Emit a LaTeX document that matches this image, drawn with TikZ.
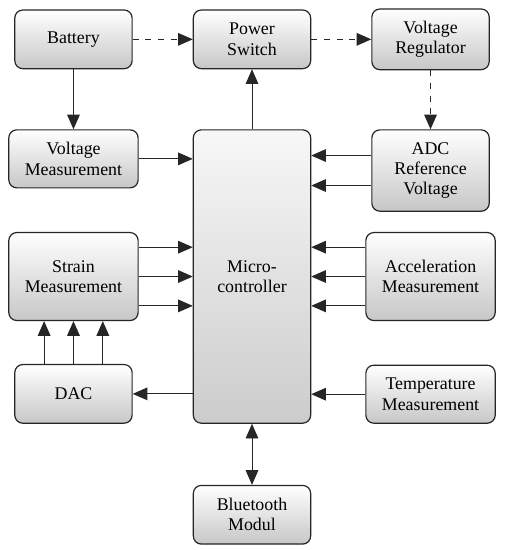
\documentclass[tikz,border=0pt]{standalone}
\usepackage{fontspec}
\setmainfont{Liberation Serif}
\usepackage{xcolor}
\usetikzlibrary{arrows.meta, positioning}

\begin{document}
\begin{tikzpicture}[
    blk/.style={draw=black!85, line width=0.9pt, rounded corners=6pt,
        top color=white, bottom color=black!22, minimum width=88pt,
        minimum height=44pt, align=center, inner sep=2pt,
        font=\rmfamily\fontsize{13.4}{15.2}\selectfont},
    wblk/.style={blk, minimum width=97pt, minimum height=43.5pt},
    sig/.style={draw=black!85, line width=0.7pt, -{Triangle[length=11pt,width=9.5pt]}},
    pwr/.style={sig, dashed, dash pattern=on 4.5pt off 5pt}
]
    \useasboundingbox (0pt,0pt) rectangle (381.75pt,-412.5pt);

    % Controller in the middle
    \node[blk, minimum height=220pt, top color=black!3, bottom color=black!20]
        (mc) at (189pt,-207.4pt) {Micro-\\controller};
    \node[blk, above=45pt of mc] (pwrsw) {Power\\Switch};
    \node[blk, left=45pt of pwrsw] (bat) {Battery};
    \node[blk, right=45pt of pwrsw, minimum height=45.5pt] (vreg) {Voltage\\Regulator};
    \node[blk, below=45.75pt of mc] (bt) {Bluetooth\\Modul};

    % Left column
    \node[wblk, left=40.5pt of mc.north west, anchor=north east] (vmeas) {Voltage\\Measurement};
    \node[wblk, left=40.5pt of mc, minimum height=66pt] (strain) {Strain\\Measurement};
    \node[blk, left=45pt of mc.south west, anchor=south east] (dac) {DAC};

    % Right column
    \node[blk, right=45pt of mc.north east, anchor=north west, minimum height=61pt] (adc) {ADC\\Reference\\Voltage};
    \node[wblk, right=40.5pt of mc, minimum height=66pt] (accel) {Acceleration\\Measurement};
    \node[wblk, right=40.5pt of mc.south east, anchor=south west] (temp) {Temperature\\Measurement};

    % Supply
    \draw[pwr] (bat) -- (pwrsw);
    \draw[pwr] (pwrsw) -- (vreg);
    \draw[pwr] (vreg) -- (adc);
    \draw[sig] (bat) -- (vmeas);
    \draw[sig] (mc) -- (pwrsw);

    % Signals
    \draw[sig] (vmeas.east) -- (vmeas.east -| mc.west);
    \foreach \dy in {11.25pt,-11.25pt}
        \draw[sig] ([yshift=\dy]adc.west) -- ([yshift=\dy]adc.west -| mc.east);
    \foreach \dy in {22pt,0pt,-22pt} {
        \draw[sig] ([yshift=\dy]strain.east) -- ([yshift=\dy]strain.east -| mc.west);
        \draw[sig] ([yshift=\dy]accel.west) -- ([yshift=\dy]accel.west -| mc.east);
    }
    \foreach \dx in {-22pt,0pt,22pt}
        \draw[sig] ([xshift=\dx]dac.north) -- ([xshift=\dx]dac.north |- strain.south);
    \draw[sig] (dac.east -| mc.west) -- (dac.east);
    \draw[sig] (temp.west) -- (temp.west -| mc.east);
    \draw[sig, {Triangle[length=11pt,width=9.5pt]}-{Triangle[length=11pt,width=9.5pt]}] (mc) -- (bt);
\end{tikzpicture}
\end{document}
